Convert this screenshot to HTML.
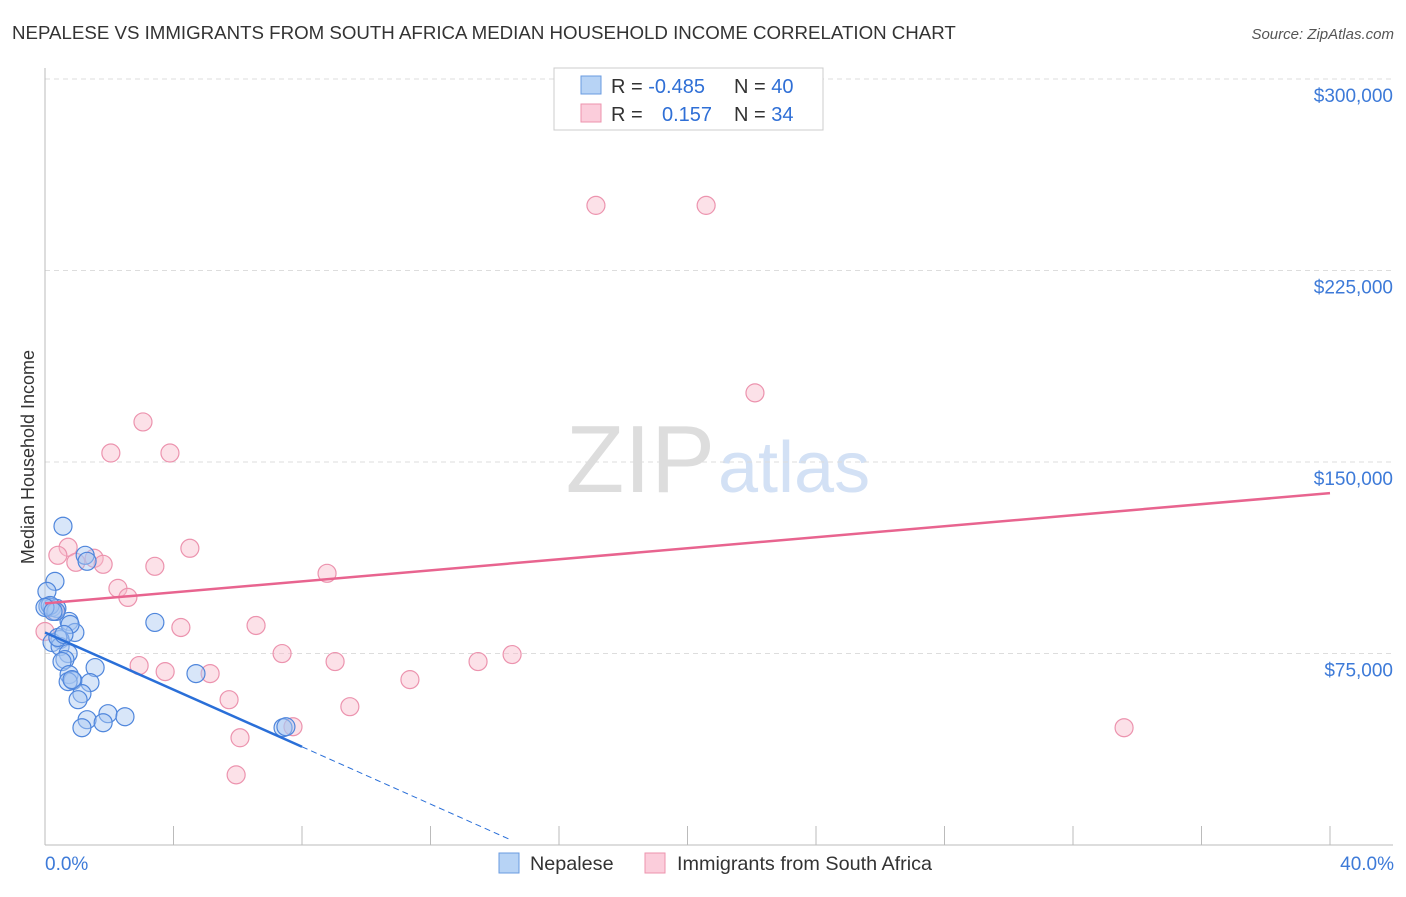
<!DOCTYPE html>
<html><head><meta charset="utf-8"><style>
body{margin:0;background:#fff;font-family:"Liberation Sans",sans-serif}
svg text{font-family:"Liberation Sans",sans-serif}
</style></head><body>
<svg id="c" width="1406" height="892" xmlns="http://www.w3.org/2000/svg">
<text x="12" y="39" font-size="18.7" fill="#333">NEPALESE VS IMMIGRANTS FROM SOUTH AFRICA MEDIAN HOUSEHOLD INCOME CORRELATION CHART</text>
<text x="1394" y="39" font-size="15" fill="#555" font-style="italic" text-anchor="end">Source: ZipAtlas.com</text>
<text x="715" y="492" font-size="96" fill="#ddd" text-anchor="end" font-family="Liberation Serif">ZIP</text>
<text x="718" y="492" font-size="72" fill="#d3e1f5">atlas</text>
<text transform="translate(34,457) rotate(-90)" font-size="18" fill="#333" text-anchor="middle">Median Household Income</text>
<g id="grid"></g><g id="marks"></g>
<rect x="554" y="68" width="269" height="62" fill="#fff" stroke="#ccc"/>
<rect x="581" y="76" width="20" height="18" fill="#b7d3f5" stroke="#6a9be0"/>
<rect x="581" y="104" width="20" height="18" fill="#fbcddb" stroke="#ec93ae"/>
<text x="611" y="93" font-size="20" fill="#333">R = <tspan fill="#2f6fd6">-0.485</tspan><tspan x="734">N = </tspan><tspan fill="#2f6fd6">40</tspan></text>
<text x="611" y="121" font-size="20" fill="#333">R = <tspan x="662" fill="#2f6fd6">0.157</tspan><tspan x="734">N = </tspan><tspan fill="#2f6fd6">34</tspan></text>
<text x="45" y="870" font-size="19" fill="#3d7ad8">0.0%</text>
<text x="1394" y="870" font-size="19" fill="#3d7ad8" text-anchor="end">40.0%</text>
<rect x="499" y="853" width="20" height="20" fill="#b7d3f5" stroke="#6a9be0"/>
<text x="530" y="870" font-size="19.8" fill="#333">Nepalese</text>
<rect x="645" y="853" width="20" height="20" fill="#fbcddb" stroke="#ec93ae"/>
<text x="677" y="870" font-size="19.8" fill="#333">Immigrants from South Africa</text>
</svg>
<script>
const yTicks=[75000,150000,225000,300000];
const yTickLabels=["$75,000","$150,000","$225,000","$300,000"];
const xTicks=[0,4,8,12,16,20,24,28,32,36,40];
const nepX=[0.56,0.31,0.06,0.09,0.22,0.37,1.25,1.31,0.75,0.93,0.47,0.22,0.47,0.72,0.62,0.53,1.56,0.75,0.87,0.72,1.40,1.15,1.03,1.31,1.15,1.96,1.81,2.49,3.42,4.70,7.41,7.50,0.16,0.34,0.40,0.78,0.59,0.0,0.25,0.84];
const nepY=[124850,103250,99330,93440,93050,92650,113460,111110,87550,83230,80480,79300,77730,74980,72630,71840,69490,66740,64380,63990,63600,59280,56920,49070,45930,51420,47890,50240,87160,67130,45930,46320,93830,91470,81270,86370,82440,93050,91470,64770];
const saX=[17.15,20.58,22.10,3.05,2.05,3.89,0.72,0.40,4.51,1.53,0.96,1.81,3.42,8.78,2.27,2.58,4.23,6.57,0.31,2.93,3.74,5.14,7.38,9.03,13.48,14.54,11.36,5.73,9.49,33.59,7.72,6.07,5.95,0.0];
const saY=[250500,250500,177080,165690,153520,153520,116610,113460,116210,112290,110710,109930,109140,106400,100510,96970,85190,85980,91470,70270,67910,67130,74980,71840,71840,74590,64770,56920,54170,45930,46320,42000,27470,83620];
const nepTrendX=[0,8,14.5];const nepTrendY=[83230,38470,2000];
const saTrendX=[0,40];const saTrendY=[94620,137810];
const X=v=>45+v/40*1285, Y=v=>845-v/75000*191.5;
const NS="http://www.w3.org/2000/svg";
function mk(t,a,p){const e=document.createElementNS(NS,t);for(const k in a)e.setAttribute(k,a[k]);p.appendChild(e);return e;}
const g=document.getElementById('grid'),m=document.getElementById('marks');
yTicks.forEach((v,i)=>{
 const l=mk('line',{x1:45,x2:1393,y1:Y(v),y2:Y(v),stroke:'#ddd','stroke-dasharray':'5,4'},g);
 
 
 const t=mk('text',{x:1393,y:Y(v)+23,'font-size':19,fill:'#3d7ad8','text-anchor':'end'},g);t.textContent=yTickLabels[i];
 
 
});
const ax=mk('line',{x1:45,x2:1393,y1:845,y2:845,stroke:'#bbb'},g);


const ay=mk('line',{x1:45,x2:45,y1:68,y2:845,stroke:'#bbb'},g);


xTicks.forEach(v=>{const l=mk('line',{x1:X(v),x2:X(v),y1:826,y2:845,stroke:'#bbb'},g);
 
 });
function pts(xs,ys,f,s,n){xs.forEach((x,i)=>{const c=mk('circle',{cx:X(x),cy:Y(ys[i]),r:9,fill:f,'fill-opacity':0.45,stroke:s,'stroke-width':1.2},m);
 
 });}
pts(saX,saY,'#f8bccd','#ec93ae','point-south-africa');
pts(nepX,nepY,'#a9c8f2','#4f86dc','point-nepalese');
const pl=mk('line',{x1:X(saTrendX[0]),y1:Y(saTrendY[0]),x2:X(saTrendX[1]),y2:Y(saTrendY[1]),stroke:'#e8648f','stroke-width':2.5},m);


const bl=mk('line',{x1:X(nepTrendX[0]),y1:Y(nepTrendY[0]),x2:X(nepTrendX[1]),y2:Y(nepTrendY[1]),stroke:'#2a6fd8','stroke-width':2.5},m);


const bd=mk('line',{x1:X(nepTrendX[1]),y1:Y(nepTrendY[1]),x2:X(nepTrendX[2]),y2:Y(nepTrendY[2]),stroke:'#2a6fd8','stroke-width':1,'stroke-dasharray':'6,4'},m);


</script>
</body></html>
